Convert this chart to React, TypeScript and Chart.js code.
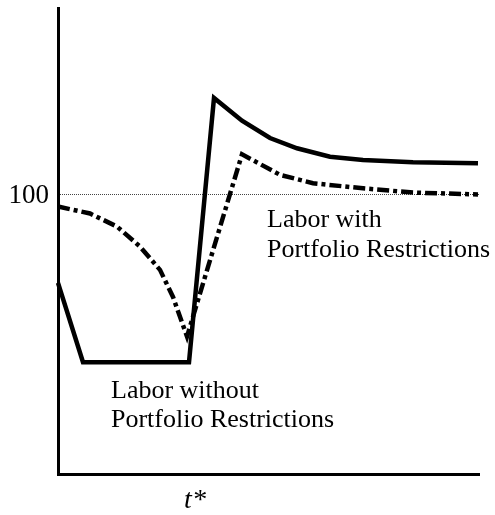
import React, { useEffect, useRef } from 'react';
import { Chart, registerables } from 'chart.js';

Chart.register(...registerables);

// Series values (time units, index level)
const solidX = [0, 2.5, 13.1, 15.6, 18.4, 21.2, 23.9, 27.2, 30.5, 35.5, 42.0];
const solidY = [81.0, 64.0, 64.0, 120.7, 115.8, 112.1, 109.9, 108.1, 107.4, 106.9, 106.7];

const dashX = [0, 3.2, 5.9, 8.2, 10.2, 11.5, 12.9, 18.4, 22.2, 25.5, 30.5, 35.5, 42.0];
const dashY = [97.4, 95.9, 93.1, 88.8, 83.8, 78.0, 69.5, 108.6, 104.2, 102.4, 101.3, 100.4, 100.0];

const yTickValues = [100];
const yTickLabels = ['100'];
const xTickValues = [13.7];
const xTickLabels = ['t*'];

const noteWith = ['Labor with', 'Portfolio Restrictions'];
const noteWithout = ['Labor without', 'Portfolio Restrictions'];

const SERIF = "'Liberation Serif', 'Times New Roman', serif";

export default function App() {
  const ref = useRef<HTMLCanvasElement>(null);

  useEffect(() => {
    if (!ref.current) return;
    const notes = [
      { lines: noteWith, x: 20.9, y: 93.0, step: 30 },
      { lines: noteWithout, x: 5.3, y: 56.4, step: 29 },
    ];
    const notePlugin = {
      id: 'notes',
      afterDatasetsDraw(chart: any) {
        const { ctx, scales } = chart;
        ctx.save();
        ctx.fillStyle = '#000';
        ctx.font = `26px ${SERIF}`;
        ctx.textBaseline = 'alphabetic';
        ctx.textAlign = 'left';
        notes.forEach((n) => {
          const px = scales.x.getPixelForValue(n.x);
          const py = scales.y.getPixelForValue(n.y);
          n.lines.forEach((t, i) => ctx.fillText(t, px, py + i * n.step));
        });
        ctx.restore();
      },
    };

    const chart = new Chart(ref.current, {
      type: 'line',
      data: {
        datasets: [
          {
            label: 'Labor without Portfolio Restrictions',
            data: solidX.map((x, i) => ({ x, y: solidY[i] })),
            borderColor: '#000',
            borderWidth: 4.5,
            pointRadius: 0,
            borderJoinStyle: 'miter',
            tension: 0,
            fill: false,
            clip: false as any,
          },
          {
            label: 'Labor with Portfolio Restrictions',
            data: dashX.map((x, i) => ({ x, y: dashY[i] })),
            borderColor: '#000',
            borderWidth: 4.5,
            borderDash: [12, 4, 4, 4],
            pointRadius: 0,
            tension: 0,
            fill: false,
            clip: false as any,
          },
        ],
      },
      options: {
        responsive: false,
        animation: false,
        devicePixelRatio: 1,
        layout: { padding: { left: 0, top: 8, right: 16, bottom: 0 } },
        plugins: {
          legend: { display: false },
          tooltip: { enabled: false },
          title: { display: false },
        },
        scales: {
          x: {
            type: 'linear',
            min: 0,
            max: 42.1,
            afterFit: (s: any) => {
              s.height = 41;
              s.paddingLeft = 0;
              s.paddingRight = 0;
            },
            afterBuildTicks: (s: any) => {
              s.ticks = xTickValues.map((v) => ({ value: v }));
            },
            ticks: {
              autoSkip: false,
              maxRotation: 0,
              padding: 10,
              color: '#000',
              font: { family: SERIF, size: 28, style: 'italic' },
              callback: (_v: any, i: number) => xTickLabels[i],
            },
            grid: { display: false, drawTicks: false },
            border: { display: true, color: '#000', width: 3 },
          },
          y: {
            type: 'linear',
            min: 40,
            max: 140,
            afterFit: (s: any) => {
              s.width = 58;
              s.paddingTop = 0;
              s.paddingBottom = 0;
            },
            afterBuildTicks: (s: any) => {
              s.ticks = yTickValues.map((v) => ({ value: v }));
            },
            ticks: {
              autoSkip: false,
              padding: 9,
              labelOffset: 2,
              color: '#000',
              font: { family: SERIF, size: 27 },
              callback: (_v: any, i: number) => yTickLabels[i],
            },
            grid: { display: true, drawTicks: false, color: '#444', lineWidth: 1 },
            border: { display: true, color: '#000', width: 3, dash: [1, 1] },
          },
        },
      } as any,
      plugins: [notePlugin],
    });

    return () => chart.destroy();
  }, []);

  return (
    <div style={{ position: 'absolute', left: 0, top: 0, width: 495, height: 515, background: '#fff' }}>
      <canvas ref={ref} width={495} height={515} style={{ display: 'block' }} />
    </div>
  );
}
